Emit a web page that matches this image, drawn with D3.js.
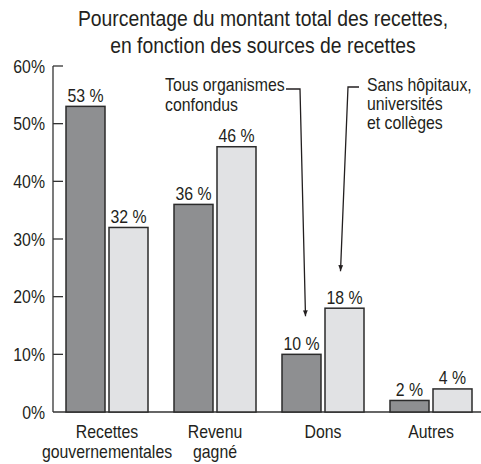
<!DOCTYPE html>
<html><head><meta charset="utf-8">
<script src="https://cdn.jsdelivr.net/npm/d3@7"></script>
<style>
body{margin:0;background:#fff;}
text{font-family:"Liberation Sans",Arial,sans-serif;fill:#231f20;}
</style></head>
<body><svg id="c" width="481" height="464"></svg>
<script>
const categories = [["Recettes","gouvernementales"],["Revenu","gagné"],["Dons"],["Autres"]];
const seriesNames = ["Tous organismes confondus","Sans hôpitaux, universités et collèges"];
const allOrgs = [53, 36, 10, 2];
const withoutHosp = [32, 46, 18, 4];
const yTicks = [0,10,20,30,40,50,60];
const titleLines = ["Pourcentage du montant total des recettes,","en fonction des sources de recettes"];
const note1 = ["Tous organismes","confondus"];
const note2 = ["Sans hôpitaux,","universités","et collèges"];

const svg = d3.select("#c");
const SX = 0.88;
const y = d3.scaleLinear().domain([0,60]).range([412,66]);
const colors = ["#8e8f91","#e1e2e4"];
const bw = 39, gap = 4;
const groupCenter = i => 107 + i*108;

// helper: multi-line condensed text
function label(parent, x0, y0, lines, size, anchor, lh){
  const t = parent.append("text")
    .attr("transform",`translate(${x0},${y0}) scale(${SX},1)`)
    .attr("text-anchor",anchor||"start").style("font-size",size+"px");
  t.selectAll("tspan").data(lines).join("tspan").attr("x",0).attr("dy",(d,j)=>j?lh:0).text(d=>d);
  return t;
}

// title
label(svg, 263, 26, titleLines, 22, "middle", 27);

// axis
const ax = svg.append("g");
ax.append("line").attr("x1",53).attr("x2",53).attr("y1",y(60)).attr("y2",y(0)).attr("stroke","#333").attr("stroke-width",1.3);
ax.append("line").attr("x1",53).attr("x2",481).attr("y1",y(0)).attr("y2",y(0)).attr("stroke","#333").attr("stroke-width",1.3);
ax.selectAll(".tk").data(yTicks.filter(d=>d>0)).join("line")
  .attr("x1",53).attr("x2",63).attr("y1",d=>y(d)).attr("y2",d=>y(d)).attr("stroke","#333").attr("stroke-width",1.3);
yTicks.forEach(d=>label(ax, 45, y(d)+6.5, [d+"%"], 18, "end", 0));

// bars
const series = [allOrgs, withoutHosp];
series.forEach((vals,s)=>{
  const g = svg.append("g");
  g.selectAll("rect").data(vals).join("rect")
    .attr("x",(d,i)=>groupCenter(i) + (s===0 ? -gap/2-bw : gap/2))
    .attr("y",d=>y(d)).attr("width",bw).attr("height",d=>y(0)-y(d))
    .attr("fill",colors[s]).attr("stroke","#2b2b2b").attr("stroke-width",1.5);
  vals.forEach((d,i)=>label(g, groupCenter(i) + (s===0 ? -gap/2-bw/2 : gap/2+bw/2), y(d)-4.5, [d+" %"], 18, "middle", 0));
});

// category labels
categories.forEach((lines,i)=>label(svg, groupCenter(i), 438, lines, 18, "middle", 20));

// annotations
const defs = svg.append("defs");
defs.append("marker").attr("id","ah").attr("viewBox","0 0 10 10").attr("refX",10).attr("refY",5)
  .attr("markerWidth",10).attr("markerHeight",6).attr("markerUnits","userSpaceOnUse").attr("orient","auto")
  .append("path").attr("d","M0,1L10,5L0,9Z").attr("fill","#231f20");

label(svg, 165, 91, note1, 18, "start", 20);
label(svg, 367, 91, note2, 18, "start", 19);

const tip1 = [groupCenter(2)-gap/2-bw/2+4, y(allOrgs[2])-38];
const tip2 = [groupCenter(2)+gap/2+bw/2-4, y(withoutHosp[2])-37];
svg.append("path").attr("d",`M286,89L300,89L${tip1[0]},${tip1[1]}`).attr("fill","none").attr("stroke","#231f20").attr("stroke-width",1.3).attr("marker-end","url(#ah)");
svg.append("path").attr("d",`M359,87L348,87L${tip2[0]},${tip2[1]}`).attr("fill","none").attr("stroke","#231f20").attr("stroke-width",1.3).attr("marker-end","url(#ah)");
</script></body></html>
